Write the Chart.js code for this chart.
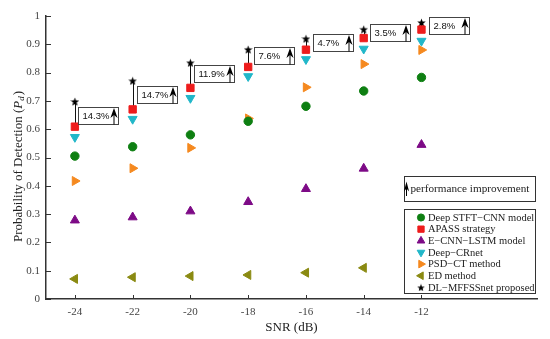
<!DOCTYPE html>
<html>
<head>
<meta charset="utf-8">
<script src="https://cdn.jsdelivr.net/npm/chart.js@4.4.1/dist/chart.umd.min.js"></script>
<style>
  html, body { margin: 0; padding: 0; background: #fff; }
  #pd-chart { display: block; }
</style>
</head>
<body>
<canvas id="pd-chart" width="550" height="339"></canvas>
<script>
// SNR points and tick labels
const snrValues = [-24, -22, -20, -18, -16, -14, -12];
const snrTicks = [-24, -22, -20, -18, -16, -14, -12];
const pdTicks = [0, 0.1, 0.2, 0.3, 0.4, 0.5, 0.6, 0.7, 0.8, 0.9, 1];

// probability of detection per method
const deepStftCnn = [0.505, 0.538, 0.580, 0.628, 0.681, 0.735, 0.783];
const apassStrategy = [0.609, 0.670, 0.746, 0.820, 0.881, 0.922, 0.952];
const eCnnLstm = [0.278, 0.289, 0.310, 0.343, 0.389, 0.461, 0.545];
const deepCrnet = [0.572, 0.636, 0.710, 0.787, 0.847, 0.884, 0.912];
const psdCt = [0.417, 0.462, 0.534, 0.638, 0.748, 0.830, 0.880];
const edMethod = [0.071, 0.077, 0.081, 0.085, 0.093, 0.110, null];
const dlMffssnet = [0.698, 0.771, 0.835, 0.882, 0.920, 0.953, 0.977];

// improvement call-outs (top-left anchor, in data units)
const gainLabels = ['14.3%', '14.7%', '11.9%', '7.6%', '4.7%', '3.5%', '2.8%'];
const gainBoxX = [-23.89, -21.84, -19.86, -17.81, -15.76, -13.78, -11.74];
const gainBoxY = [0.678, 0.753, 0.827, 0.890, 0.936, 0.972, 0.998];

const SERIF = "'Liberation Serif', 'Times New Roman', serif";
const SANS = "'Liberation Sans', Arial, sans-serif";

function toPoints(arr) {
  return snrValues.map((x, i) => ({ x: x, y: arr[i] })).filter(p => p.y !== null);
}

// filled five point star used as point style
function makeStar(size, color) {
  const c = document.createElement('canvas');
  c.width = size; c.height = size;
  const g = c.getContext('2d');
  const cx = size / 2, cy = size / 2 + 0.5;
  const ro = size / 2, ri = ro * 0.42;
  g.beginPath();
  for (let k = 0; k < 10; k++) {
    const r = k % 2 === 0 ? ro : ri;
    const a = -Math.PI / 2 + k * Math.PI / 5;
    const px = cx + r * Math.cos(a), py = cy + r * Math.sin(a);
    if (k === 0) g.moveTo(px, py); else g.lineTo(px, py);
  }
  g.closePath();
  g.fillStyle = color;
  g.fill();
  return c;
}
const starImg = makeStar(9, '#000000');
const starSmall = makeStar(8, '#000000');

const seriesDefs = [
  { label: 'Deep STFT\u2212CNN model', data: deepStftCnn, color: '#0e7f12', style: 'circle', radius: 4.2, rotation: 0 },
  { label: 'APASS strategy', data: apassStrategy, color: '#ee1c1c', style: 'rect', radius: 5.2, rotation: 0 },
  { label: 'E\u2212CNN\u2212LSTM model', data: eCnnLstm, color: '#7d0a86', style: 'triangle', radius: 5.2, rotation: 0 },
  { label: 'Deep\u2212CRnet', data: deepCrnet, color: '#21b7c9', style: 'triangle', radius: 5.2, rotation: 180 },
  { label: 'PSD\u2212CT method', data: psdCt, color: '#f5891f', style: 'triangle', radius: 5.2, rotation: 90 },
  { label: 'ED method', data: edMethod, color: '#8a8a12', style: 'triangle', radius: 5.2, rotation: 270 },
  { label: 'DL\u2212MFFSSnet proposed', data: dlMffssnet, color: '#000000', style: starImg, radius: 5, rotation: 0 }
];

function drawArrow(ctx, x, yBottom, yTip, half) {
  const hw = half || 3.6;
  ctx.save();
  ctx.strokeStyle = '#000';
  ctx.fillStyle = '#000';
  ctx.lineWidth = 1;
  ctx.beginPath();
  ctx.moveTo(x, yBottom);
  ctx.lineTo(x, yTip + 6);
  ctx.stroke();
  ctx.beginPath();
  ctx.moveTo(x, yTip);
  ctx.lineTo(x + hw, yTip + 10);
  ctx.lineTo(x, yTip + 7);
  ctx.lineTo(x - hw, yTip + 10);
  ctx.closePath();
  ctx.fill();
  ctx.restore();
}

function drawMarker(ctx, def, x, y) {
  if (window.Chart && Chart.helpers && Chart.helpers.drawPoint) {
    ctx.save();
    ctx.fillStyle = def.color;
    ctx.strokeStyle = def.color;
    ctx.lineWidth = 1;
    const style = def.style === starImg ? starSmall : def.style;
    Chart.helpers.drawPoint(ctx, { pointStyle: style, radius: def.radius * 0.85, rotation: def.rotation, borderWidth: 1 }, x, y);
    ctx.restore();
  }
}

// inward tick marks, connectors, call-outs, titles and legend
const decorPlugin = {
  id: 'decor',
  beforeDatasetsDraw(chart) {
    const ctx = chart.ctx;
    const xs = chart.scales.x, ys = chart.scales.y;
    ctx.save();
    ctx.strokeStyle = '#111';
    ctx.lineWidth = 1;
    snrValues.forEach((v, i) => {
      const px = Math.round(xs.getPixelForValue(v)) + 0.5;
      ctx.beginPath();
      ctx.moveTo(px, ys.getPixelForValue(apassStrategy[i]));
      ctx.lineTo(px, ys.getPixelForValue(dlMffssnet[i]));
      ctx.stroke();
    });
    ctx.restore();
  },
  afterDraw(chart) {
    const ctx = chart.ctx;
    const xs = chart.scales.x, ys = chart.scales.y;
    const area = chart.chartArea;

    // tick marks pointing inside
    ctx.save();
    ctx.strokeStyle = '#333';
    ctx.lineWidth = 1;
    snrTicks.forEach(v => {
      const px = Math.round(xs.getPixelForValue(v)) + 0.5;
      ctx.beginPath();
      ctx.moveTo(px, area.bottom);
      ctx.lineTo(px, area.bottom - 4);
      ctx.stroke();
    });
    pdTicks.forEach(v => {
      const py = Math.round(ys.getPixelForValue(v)) + 0.5;
      ctx.beginPath();
      ctx.moveTo(area.left, py);
      ctx.lineTo(area.left + 5, py);
      ctx.stroke();
    });
    ctx.restore();

    // improvement boxes
    ctx.save();
    gainLabels.forEach((txt, i) => {
      const bx = Math.round(xs.getPixelForValue(gainBoxX[i])) + 0.5;
      const by = Math.round(ys.getPixelForValue(gainBoxY[i])) + 0.5;
      const bw = 40, bh = 17;
      ctx.fillStyle = '#fff';
      ctx.fillRect(bx, by, bw, bh);
      ctx.strokeStyle = '#444';
      ctx.lineWidth = 1;
      ctx.strokeRect(bx, by, bw, bh);
      ctx.fillStyle = '#111';
      ctx.font = '9.5px ' + SANS;
      ctx.textBaseline = 'middle';
      ctx.textAlign = 'left';
      ctx.fillText(txt, bx + 4, by + bh / 2 + 0.5);
      drawArrow(ctx, bx + bw - 4.5, by + bh, by + 0.5);
    });
    ctx.restore();

    // axis titles
    ctx.save();
    ctx.fillStyle = '#222';
    ctx.font = '13px ' + SERIF;
    ctx.textAlign = 'center';
    ctx.textBaseline = 'middle';
    ctx.fillText('SNR (dB)', (area.left + area.right) / 2, 328);

    ctx.translate(17, 167);
    ctx.rotate(-Math.PI / 2);
    const main = 'Probability of Detection (';
    ctx.font = '13px ' + SERIF;
    const w1 = ctx.measureText(main).width;
    ctx.font = 'italic 13px ' + SERIF;
    const w2 = ctx.measureText('P').width;
    ctx.font = 'italic 9px ' + SERIF;
    const w3 = ctx.measureText('d').width;
    ctx.font = '13px ' + SERIF;
    const w4 = ctx.measureText(')').width;
    let cx = -(w1 + w2 + w3 + w4) / 2;
    ctx.textAlign = 'left';
    ctx.textBaseline = 'alphabetic';
    ctx.fillText(main, cx, 4.5); cx += w1;
    ctx.font = 'italic 13px ' + SERIF;
    ctx.fillText('P', cx, 4.5); cx += w2;
    ctx.font = 'italic 9px ' + SERIF;
    ctx.fillText('d', cx, 7); cx += w3;
    ctx.font = '13px ' + SERIF;
    ctx.fillText(')', cx + 1, 4.5);
    ctx.restore();

    // legend: performance improvement box
    ctx.save();
    ctx.strokeStyle = '#333';
    ctx.lineWidth = 1;
    ctx.fillStyle = '#fff';
    ctx.fillRect(404.5, 176.5, 131, 25);
    ctx.strokeRect(404.5, 176.5, 131, 25);
    drawArrow(ctx, 406.5, 196, 181.5, 2.6);
    ctx.fillStyle = '#222';
    ctx.font = '11.2px ' + SERIF;
    ctx.textAlign = 'left';
    ctx.textBaseline = 'middle';
    ctx.fillText('performance improvement', 410.5, 189);

    // legend: series
    ctx.fillStyle = '#fff';
    ctx.fillRect(404.5, 209.5, 131, 84);
    ctx.strokeRect(404.5, 209.5, 131, 84);
    seriesDefs.forEach((def, i) => {
      const ly = 217.5 + i * 11.65;
      drawMarker(ctx, def, 421, ly);
      ctx.fillStyle = '#222';
      ctx.font = '10.5px ' + SERIF;
      ctx.textAlign = 'left';
      ctx.textBaseline = 'middle';
      ctx.fillText(def.label, 428, ly + 0.5);
    });
    ctx.restore();
  }
};

const ctx = document.getElementById('pd-chart').getContext('2d');
new Chart(ctx, {
  type: 'scatter',
  data: {
    datasets: seriesDefs.map(def => ({
      label: def.label,
      data: toPoints(def.data),
      showLine: false,
      pointStyle: def.style,
      pointRadius: def.radius,
      pointRotation: def.rotation,
      pointBackgroundColor: def.color,
      pointBorderColor: def.color,
      pointBorderWidth: 1,
      pointHoverRadius: def.radius
    }))
  },
  options: {
    responsive: false,
    devicePixelRatio: 1,
    animation: false,
    layout: { padding: { top: 16, right: 13, left: 0, bottom: 0 } },
    plugins: {
      legend: { display: false },
      tooltip: { enabled: false }
    },
    scales: {
      x: {
        type: 'linear',
        min: -25,
        max: -8,
        afterBuildTicks: scale => { scale.ticks = snrTicks.map(v => ({ value: v })); },
        afterFit: scale => { scale.height = 40; },
        grid: { display: false, drawTicks: false },
        border: { display: true, color: '#333', width: 1.5 },
        ticks: {
          padding: 7,
          color: '#444',
          font: { family: SERIF, size: 11 }
        }
      },
      y: {
        type: 'linear',
        min: 0,
        max: 1,
        afterBuildTicks: scale => { scale.ticks = pdTicks.map(v => ({ value: v })); },
        afterFit: scale => { scale.width = 46; },
        grid: { display: false, drawTicks: false },
        border: { display: true, color: '#333', width: 1.5 },
        ticks: {
          padding: 6,
          color: '#444',
          font: { family: SERIF, size: 11 },
          callback: v => String(+Number(v).toFixed(1))
        }
      }
    }
  },
  plugins: [decorPlugin]
});
</script>
</body>
</html>
